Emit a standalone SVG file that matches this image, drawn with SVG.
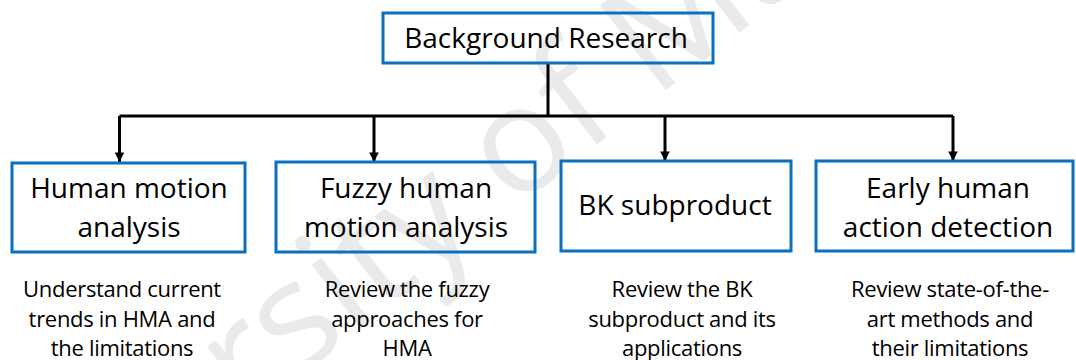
<svg xmlns="http://www.w3.org/2000/svg" width="1076" height="360" viewBox="0 0 1076 360">
  <style>
    .box { fill: none; stroke: #0B6FC0; stroke-width: 3; }
    .label { font-family: "Open Sans", "Noto Sans", sans-serif; font-size: 28px; fill: #000; text-anchor: middle; }
    .desc { font-family: "Open Sans", "Noto Sans", sans-serif; font-size: 22px; fill: #000; text-anchor: middle; letter-spacing: -0.3px; }
    .wire { fill: none; stroke: #000; stroke-width: 3; }
    .mark { font-family: "Open Sans", "Noto Sans", sans-serif; font-size: 150px; fill: #eaeaea; }
  </style>
  <defs>
    <marker id="arrow" viewBox="0 0 10 10" refX="10" refY="5" markerWidth="3.2" markerHeight="3.2" markerUnits="strokeWidth" orient="auto">
      <path d="M0,0 L10,5 L0,10 Z" fill="#000"/>
    </marker>
  </defs>
  <rect width="1076" height="360" fill="#fff"/>

  <!-- faint background watermark -->
  <g id="watermark" transform="translate(295,380) rotate(-38)">
    <text class="mark" x="-460" y="0">University of Malaya</text>
  </g>

  <!-- tree connectors -->
  <g id="connectors">
    <path class="wire" d="M548,63 V116"/>
    <path class="wire" d="M119.5,116 H953"/>
    <path class="wire" d="M119.5,116 V162" marker-end="url(#arrow)"/>
    <path class="wire" d="M374,116 V162" marker-end="url(#arrow)"/>
    <path class="wire" d="M665,116 V161" marker-end="url(#arrow)"/>
    <path class="wire" d="M953,116 V161" marker-end="url(#arrow)"/>
  </g>

  <g id="background-research">
    <rect class="box" x="383" y="13" width="330" height="50"/>
    <text class="label" x="546" y="48">Background Research</text>
  </g>

  <g id="human-motion-analysis">
    <rect class="box" x="12" y="163" width="233" height="89"/>
    <text class="label" x="129" y="198">Human motion</text>
    <text class="label" x="129" y="237">analysis</text>
  </g>

  <g id="fuzzy-human-motion-analysis">
    <rect class="box" x="276" y="162" width="259" height="90"/>
    <text class="label" x="406" y="198">Fuzzy human</text>
    <text class="label" x="406" y="237">motion analysis</text>
  </g>

  <g id="bk-subproduct">
    <rect class="box" x="561" y="161" width="230" height="90"/>
    <text class="label" x="675" y="215">BK subproduct</text>
  </g>

  <g id="early-human-action-detection">
    <rect class="box" x="816" y="161" width="257" height="90"/>
    <text class="label" x="948" y="198">Early human</text>
    <text class="label" x="948" y="237">action detection</text>
  </g>

  <g id="desc-hma">
    <text class="desc" x="122" y="297">Understand current</text>
    <text class="desc" x="122" y="327">trends in HMA and</text>
    <text class="desc" x="122" y="356">the limitations</text>
  </g>

  <g id="desc-fuzzy">
    <text class="desc" x="407" y="297">Review the fuzzy</text>
    <text class="desc" x="407" y="327">approaches for</text>
    <text class="desc" x="407" y="356">HMA</text>
  </g>

  <g id="desc-bk">
    <text class="desc" x="682" y="297">Review the BK</text>
    <text class="desc" x="682" y="327">subproduct and its</text>
    <text class="desc" x="682" y="356">applications</text>
  </g>

  <g id="desc-early">
    <text class="desc" x="950" y="297">Review state-of-the-</text>
    <text class="desc" x="950" y="327">art methods and</text>
    <text class="desc" x="950" y="356">their limitations</text>
  </g>
</svg>
